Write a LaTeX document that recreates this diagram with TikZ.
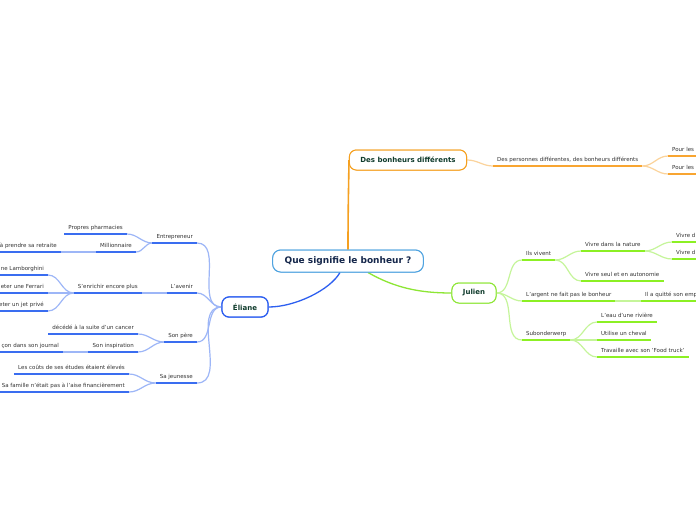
\documentclass[tikz,border=0pt]{standalone}
\usepackage{fontspec}
\setmainfont{DejaVu Sans}
\definecolor{blueUL}{HTML}{3A6DF0}
\definecolor{blueCN}{HTML}{9DB6F7}
\definecolor{blueMain}{HTML}{2D5FF0}
\definecolor{greenUL}{HTML}{8CF024}
\definecolor{greenCN}{HTML}{C5F59A}
\definecolor{greenMain}{HTML}{8DE634}
\definecolor{orangeUL}{HTML}{F8A531}
\definecolor{orangeCN}{HTML}{FBD39B}
\definecolor{orangeMain}{HTML}{F5A020}
\definecolor{skyB}{HTML}{4FA3E0}
\definecolor{titleC}{HTML}{14264A}
\definecolor{subC}{HTML}{0F3B2C}
\definecolor{lblC}{HTML}{333333}
\tikzset{
  bigbox/.style={draw=skyB, rounded corners=8pt, line width=1pt, fill=white,
    font=\fontsize{9}{10}\selectfont\bfseries, text=titleC, inner xsep=12pt,
    minimum height=22pt},
  subbox/.style={draw, rounded corners=7pt, line width=1pt, fill=white,
    font=\fontsize{7}{8}\selectfont\bfseries, text=subC, inner xsep=11pt,
    minimum height=20pt},
  lbl/.style={font=\fontsize{5.5}{6.5}\selectfont, text=lblC, inner xsep=4pt,
    inner ysep=3pt, text height=4.2pt, text depth=1.5pt},
  lt/.style={lbl, anchor=south east},
  rt/.style={lbl, anchor=south west},
  lclip/.style={lbl, anchor=south east, text width=75pt, align=right},
  rclip/.style={lbl, anchor=south west, text width=75pt, align=left},
  ulB/.style={draw=blueUL, line width=2pt},
  ulG/.style={draw=greenUL, line width=2pt},
  ulO/.style={draw=orangeUL, line width=2pt},
  cnB/.style={draw=blueCN, line width=1.2pt},
  cnG/.style={draw=greenCN, line width=1.2pt},
  cnO/.style={draw=orangeCN, line width=1.2pt},
}
\begin{document}
\begin{tikzpicture}[x=1pt,y=-1pt]
\useasboundingbox (0,0) rectangle (696,520);
\clip (0,0) rectangle (696,520);
\fill[white] (0,0) rectangle (696,520);

% main nodes
\node[bigbox] (main) at (348,261) {Que signifie le bonheur ?};
\node[subbox, draw=orangeMain] (des) at (408,160) {Des bonheurs différents};
\node[subbox, draw=blueMain, line width=1.2pt] (eli) at (245,307) {Éliane};
\node[subbox, draw=greenMain] (jul) at (474,293) {Julien};

% left (blue) labels
\node[lt] (ent) at (197,243) {Entrepreneur};
\node[lt] (pharm) at (127,234) {Propres pharmacies};
\node[lt] (mill) at (136,252) {Millionnaire};
\node[lclip] (retr) at (61,252) {à prendre sa retraite};
\node[lt] (aven) at (197,293) {L'avenir};
\node[lt] (enri) at (142,293) {S'enrichir encore plus};
\node[lclip] (lamb) at (48,275) {ne Lamborghini};
\node[lclip] (ferr) at (48,293) {eter une Ferrari};
\node[lclip] (jet) at (48,311) {eter un jet privé};
\node[lt] (pere) at (197,342) {Son père};
\node[lt] (dece) at (138,334) {décédé à la suite d'un cancer};
\node[lt] (insp) at (138,352) {Son inspiration};
\node[lclip] (jour) at (63,352) {çon dans son journal};
\node[lt] (jeun) at (197,383) {Sa jeunesse};
\node[lt] (cout) at (129,374) {Les coûts de ses études étaient élevés};
\node[lt] (fami) at (129,392) {Sa famille n'était pas à l'aise financièrement};

% right (orange) labels
\node[rt] (pers) at (493,166) {Des personnes différentes, des bonheurs différents};
\node[rclip] (pour1) at (668,156) {Pour les};
\node[rclip] (pour2) at (668,174) {Pour les};

% right (green) labels
\node[rt] (ils) at (522,260) {Ils vivent};
\node[rt] (nat) at (581,251) {Vivre dans la nature};
\node[rclip] (vd1) at (672,242) {Vivre d};
\node[rclip] (vd2) at (672,259) {Vivre d};
\node[rt] (seul) at (581,281) {Vivre seul et en autonomie};
\node[rt] (arg) at (522,301) {L'argent ne fait pas le bonheur};
\node[rclip] (quit) at (641,301) {Il a quitté son emp};
\node[rt] (sub) at (522,340) {Subonderwerp};
\node[rt] (eau) at (597,322) {L'eau d'une rivière};
\node[rt] (chev) at (597,340) {Utilise un cheval};
\node[rt] (food) at (597,357) {Travaille avec son 'Food truck'};

% connectors
\draw[orangeMain, line width=1.6pt] (main.north) .. controls (348,200) and (349,175) .. (des.west);
\draw[blueMain, line width=1.3pt] ([xshift=-8pt]main.south) .. controls (330,290) and (295,307) .. (eli.east);
\draw[greenMain, line width=1.3pt] ([xshift=20pt]main.south) .. controls (395,288) and (420,293) .. (jul.west);

\foreach \c in {ent,aven,pere,jeun}
  \draw[cnB] (eli.west) to[out=180,in=0] (\c.south east);
\foreach \c in {pharm,mill}
  \draw[cnB] (ent.south west) to[out=180,in=0] (\c.south east);
\draw[cnB, line width=2pt] (mill.south west) -- (retr.south east);
\draw[cnB, line width=2pt] (aven.south west) -- (enri.south east);
\foreach \c in {lamb,ferr,jet}
  \draw[cnB] (enri.south west) to[out=180,in=0] (\c.south east);
\foreach \c in {dece,insp}
  \draw[cnB] (pere.south west) to[out=180,in=0] (\c.south east);
\draw[cnB, line width=2pt] (insp.south west) -- (jour.south east);
\foreach \c in {cout,fami}
  \draw[cnB] (jeun.south west) to[out=180,in=0] (\c.south east);

\draw[cnO] (des.east) to[out=0,in=180] (pers.south west);
\foreach \c in {pour1,pour2}
  \draw[cnO] (pers.south east) to[out=0,in=180] (\c.south west);

\foreach \c in {ils,arg,sub}
  \draw[cnG] (jul.east) to[out=0,in=180] (\c.south west);
\foreach \c in {nat,seul}
  \draw[cnG] (ils.south east) to[out=0,in=180] (\c.south west);
\foreach \c in {vd1,vd2}
  \draw[cnG] (nat.south east) to[out=0,in=180] (\c.south west);
\draw[cnG, line width=2pt] (arg.south east) -- (quit.south west);
\foreach \c in {eau,chev,food}
  \draw[cnG] (sub.south east) to[out=0,in=180] (\c.south west);

% underlines
\foreach \n in {ent,pharm,mill,retr,aven,enri,lamb,ferr,jet,pere,dece,insp,jour,jeun,cout,fami}
  \draw[ulB] (\n.south west) -- (\n.south east);
\foreach \n in {pers,pour1,pour2}
  \draw[ulO] (\n.south west) -- (\n.south east);
\foreach \n in {ils,nat,vd1,vd2,seul,arg,quit,sub,eau,chev,food}
  \draw[ulG] (\n.south west) -- (\n.south east);

% boxes on top of connectors
\node[bigbox] at (main) {Que signifie le bonheur ?};
\node[subbox, draw=orangeMain] at (des) {Des bonheurs différents};
\node[subbox, draw=blueMain, line width=1.2pt] at (eli) {Éliane};
\node[subbox, draw=greenMain] at (jul) {Julien};
\end{tikzpicture}
\end{document}
